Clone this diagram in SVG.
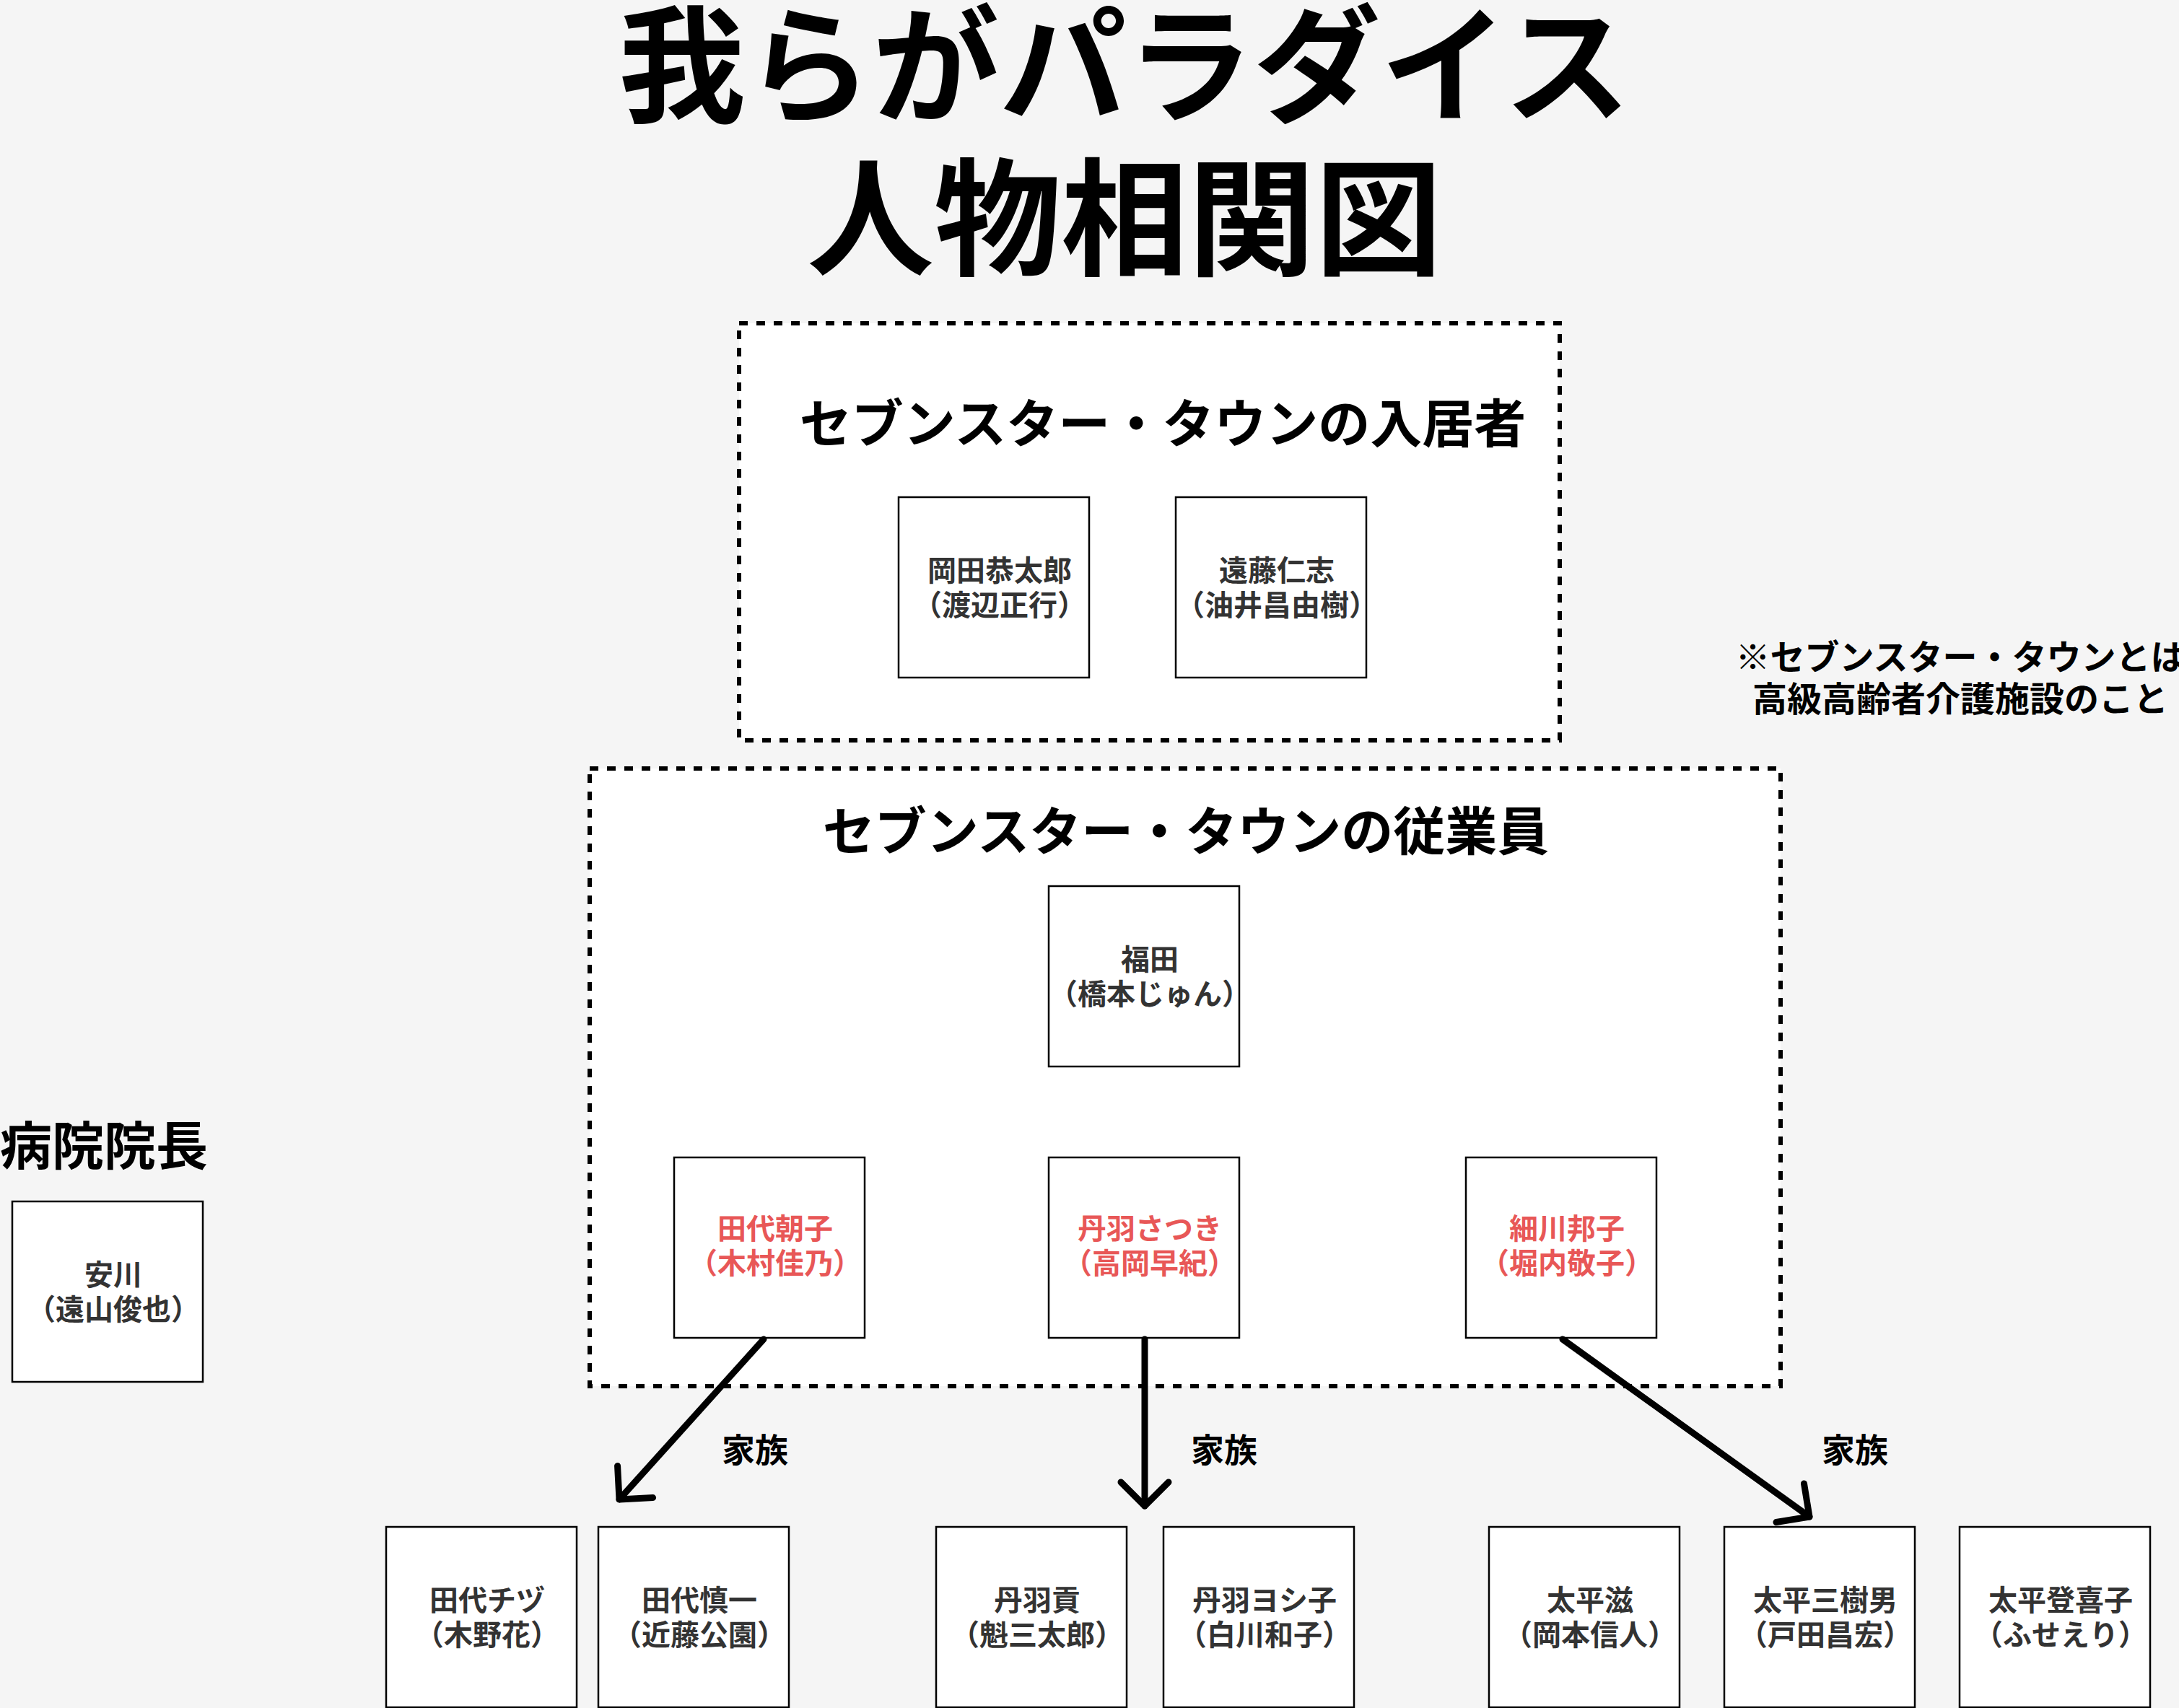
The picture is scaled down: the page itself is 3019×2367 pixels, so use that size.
<svg xmlns="http://www.w3.org/2000/svg" width="3019" height="2367" viewBox="0 0 3019 2367">
<defs>
<style>
text{font-family:"Noto Sans CJK JP","Noto Sans CJK SC",sans-serif;font-weight:bold;}
.title{font-size:176px;fill:#000;text-anchor:middle;}
.sec{font-size:72px;fill:#000;}
.note{font-size:48px;fill:#000;text-anchor:middle;}
.lbl{font-size:46px;fill:#000;text-anchor:middle;}
.nt{font-size:40px;fill:#333;text-anchor:middle;}
.red{fill:#e85757;}
.box{fill:#fff;stroke:#000;stroke-width:2.5;}
.grp{fill:#fff;stroke:#000;stroke-width:6;stroke-dasharray:12 12;}
.con{fill:none;stroke:#000;stroke-width:9;stroke-linecap:round;}
</style>
<marker id="arr" markerUnits="userSpaceOnUse" viewBox="-50 -50 60 100" refX="0" refY="0" markerWidth="60" markerHeight="100" orient="auto" overflow="visible">
<path d="M -33 -33 L 0 0 L -33 33" fill="none" stroke="#000" stroke-width="9" stroke-linecap="round" stroke-linejoin="round"/>
</marker>
</defs>
<rect width="3019" height="2367" fill="#f5f5f5"/>

<g id="title">
<text class="title" x="1558" y="156">我らがパラダイス</text>
<text class="title" x="1558" y="368">人物相関図</text>
</g>

<g id="residents">
<rect class="grp" x="1024" y="448" width="1137" height="578"/>
<text class="sec" x="1611" y="613" text-anchor="middle">セブンスター・タウンの入居者</text>
</g>

<g id="staff">
<rect class="grp" x="817" y="1065" width="1650" height="856"/>
<text class="sec" x="1643" y="1178" text-anchor="middle">セブンスター・タウンの従業員</text>
</g>

<g id="note">
<text class="note" x="2716" y="928">※セブンスター・タウンとは</text>
<text class="note" x="2716" y="986">高級高齢者介護施設のこと</text>
</g>

<g id="hospital">
<text class="sec" x="0" y="1614">病院院長</text>
</g>

<g id="okada">
<rect class="box" x="1245" y="689" width="264" height="250"/>
<text class="nt" x="1385" y="805">岡田恭太郎</text>
<text class="nt" x="1385" y="853">（渡辺正行）</text>
</g>
<g id="endo">
<rect class="box" x="1629" y="689" width="264" height="250"/>
<text class="nt" x="1769" y="805">遠藤仁志</text>
<text class="nt" x="1769" y="853">（油井昌由樹）</text>
</g>
<g id="fukuda">
<rect class="box" x="1453" y="1228" width="264" height="250"/>
<text class="nt" x="1593" y="1344">福田</text>
<text class="nt" x="1593" y="1392">（橋本じゅん）</text>
</g>
<g id="tashiro-asako">
<rect class="box" x="934" y="1604" width="264" height="250"/>
<text class="nt red" x="1074" y="1717">田代朝子</text>
<text class="nt red" x="1074" y="1765">（木村佳乃）</text>
</g>
<g id="niwa-satsuki">
<rect class="box" x="1453" y="1604" width="264" height="250"/>
<text class="nt red" x="1593" y="1717">丹羽さつき</text>
<text class="nt red" x="1593" y="1765">（高岡早紀）</text>
</g>
<g id="hosokawa">
<rect class="box" x="2031" y="1604" width="264" height="250"/>
<text class="nt red" x="2171" y="1717">細川邦子</text>
<text class="nt red" x="2171" y="1765">（堀内敬子）</text>
</g>
<g id="yasukawa">
<rect class="box" x="17" y="1665" width="264" height="250"/>
<text class="nt" x="157" y="1781">安川</text>
<text class="nt" x="157" y="1829">（遠山俊也）</text>
</g>

<g id="tashiro-chizu">
<rect class="box" x="535" y="2116" width="264" height="250"/>
<text class="nt" x="675" y="2232">田代チヅ</text>
<text class="nt" x="675" y="2280">（木野花）</text>
</g>
<g id="tashiro-shinichi">
<rect class="box" x="829" y="2116" width="264" height="250"/>
<text class="nt" x="969" y="2232">田代慎一</text>
<text class="nt" x="969" y="2280">（近藤公園）</text>
</g>
<g id="niwa-mitsugu">
<rect class="box" x="1297" y="2116" width="264" height="250"/>
<text class="nt" x="1437" y="2232">丹羽貢</text>
<text class="nt" x="1437" y="2280">（魁三太郎）</text>
</g>
<g id="niwa-yoshiko">
<rect class="box" x="1612" y="2116" width="264" height="250"/>
<text class="nt" x="1752" y="2232">丹羽ヨシ子</text>
<text class="nt" x="1752" y="2280">（白川和子）</text>
</g>
<g id="taihei-shigeru">
<rect class="box" x="2063" y="2116" width="264" height="250"/>
<text class="nt" x="2203" y="2232">太平滋</text>
<text class="nt" x="2203" y="2280">（岡本信人）</text>
</g>
<g id="taihei-mikio">
<rect class="box" x="2389" y="2116" width="264" height="250"/>
<text class="nt" x="2529" y="2232">太平三樹男</text>
<text class="nt" x="2529" y="2280">（戸田昌宏）</text>
</g>
<g id="taihei-tokiko">
<rect class="box" x="2715" y="2116" width="264" height="250"/>
<text class="nt" x="2855" y="2232">太平登喜子</text>
<text class="nt" x="2855" y="2280">（ふせえり）</text>
</g>

<g id="connectors">
<line class="con" x1="1058" y1="1856" x2="858" y2="2078" marker-end="url(#arr)"/>
<line class="con" x1="1586" y1="1856" x2="1586" y2="2087" marker-end="url(#arr)"/>
<line class="con" x1="2165" y1="1856" x2="2507" y2="2102" marker-end="url(#arr)"/>
<text class="lbl" x="1046" y="2026">家族</text>
<text class="lbl" x="1696" y="2026">家族</text>
<text class="lbl" x="2570" y="2026">家族</text>
</g>
</svg>
